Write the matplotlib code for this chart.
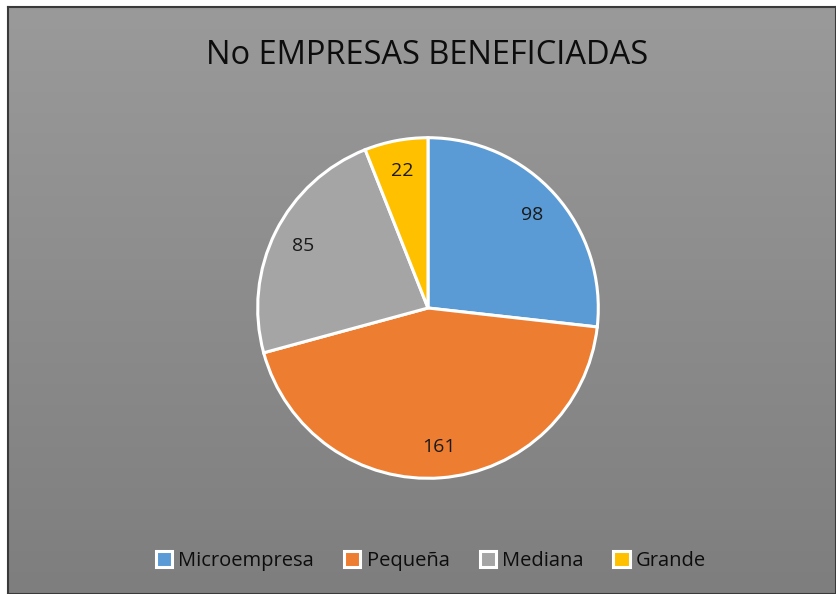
import numpy as np
import matplotlib.pyplot as plt
from matplotlib.patches import Patch
from matplotlib.colors import LinearSegmentedColormap

categories = ["Microempresa", "Pequeña", "Mediana", "Grande"]
values = [98, 161, 85, 22]
colors = ["#5B9BD5", "#ED7D31", "#A5A5A5", "#FFC000"]
title = "No EMPRESAS BENEFICIADAS"

W, H = 836, 594
fig = plt.figure(figsize=(W / 100, H / 100), dpi=100)
fig.patch.set_facecolor("white")

# gradient background panel
x0 = 8 / W
bg = fig.add_axes([x0, 0, 1 - x0, 1 - 7 / H])
grad = np.linspace(0, 1, 256).reshape(-1, 1)
cmap = LinearSegmentedColormap.from_list("g", ["#9a9a9a", "#7e7e7e"])
bg.imshow(grad, aspect="auto", cmap=cmap, extent=[0, 1, 0, 1], origin="upper")
bg.set_xlim(0, 1)
bg.set_ylim(0, 1)
bg.set_xticks([])
bg.set_yticks([])
for s in bg.spines.values():
    s.set_color("#3a3a3a")
    s.set_linewidth(1.5)

# pie
R = 172
cx, cy = 428, 308
ax = fig.add_axes([(cx - R) / W, (H - cy - R) / H, 2 * R / W, 2 * R / H])
ax.set_facecolor("none")
wedges, texts = ax.pie(values, colors=colors, startangle=90, counterclock=False,
                       labels=[str(v) for v in values], labeldistance=0.82,
                       wedgeprops=dict(edgecolor="white", linewidth=2.2),
                       textprops=dict(fontsize=14, color="#1a1a1a", family="Open Sans"),
                       radius=1.0)
for t in texts:
    t.set_ha("center")
    t.set_va("center")
ax.set_xlim(-1.01, 1.01)
ax.set_ylim(-1.01, 1.01)
ax.set_aspect("equal")

fig.text(427 / W, 1 - 56 / H, title, ha="center", va="center",
         fontsize=23.5, family="Open Sans", color="#0d0d0d")

handles = [Patch(facecolor=c, edgecolor="white", linewidth=2.2) for c in colors]
leg = fig.legend(handles, categories, loc="center", bbox_to_anchor=(431 / W, 1 - 561 / H),
                 ncol=4, frameon=False, handlelength=0.8, handleheight=0.8,
                 handletextpad=0.3, columnspacing=1.5,
                 prop=dict(family="Open Sans", size=14.5))
for t in leg.get_texts():
    t.set_color("#0d0d0d")

fig.savefig("out.png", dpi=100)
